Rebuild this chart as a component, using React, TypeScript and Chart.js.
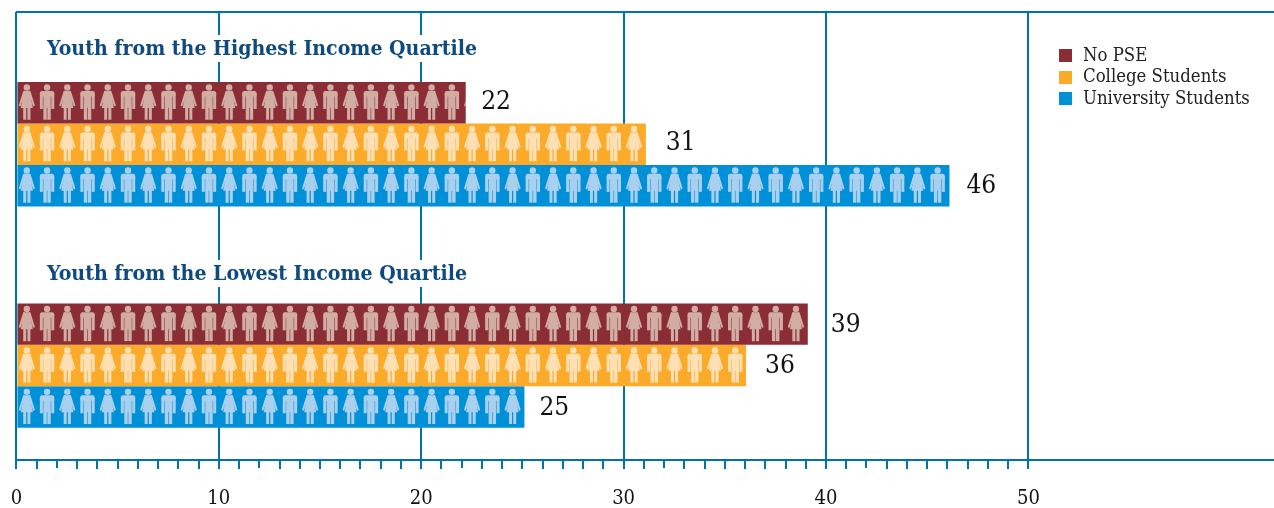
import React, { useEffect, useRef } from "react";
import { Chart, registerables } from "chart.js";

Chart.register(...registerables);

const groupTitles = ["Youth from the Highest Income Quartile", "Youth from the Lowest Income Quartile"];
const groupPositions = [1, 2];
const seriesNames = ["No PSE", "College Students", "University Students"];
const noPse = [22.2, 39.1];
const college = [31.1, 36.05];
const university = [46.1, 25.1];
const seriesColors = ["#8B2D35", "#FBAB29", "#0090D7"];
const figureColors = ["#D1ADA3", "#FEE0B4", "#A9D1EF"];
const labelGaps = [[15.5, 23], [20, 19], [17, 15]];
const labelDrops = [[-0.5, 1], [-0.5, 0.5], [0.5, 1.5]];
const tickLabels = [0, 10, 20, 30, 40, 50];
const shortTicks = [2, 12, 22, 32, 42];
const LINE = "#0074A8";
const SERIF = '"DejaVu Serif Condensed", "DejaVu Serif", serif';

function drawFigure(ctx: CanvasRenderingContext2D, cx: number, cy: number, woman: boolean) {
  ctx.beginPath();
  ctx.arc(cx, cy - 15.2, 3.2, 0, Math.PI * 2);
  ctx.fill();
  if (woman) {
    ctx.beginPath();
    ctx.moveTo(cx - 3, cy - 11.8);
    ctx.lineTo(cx + 3, cy - 11.8);
    ctx.lineTo(cx + 6, cy + 5.2);
    ctx.lineTo(cx + 3.6, cy + 5.2);
    ctx.lineTo(cx + 3.6, cy + 17);
    ctx.lineTo(cx + 0.6, cy + 17);
    ctx.lineTo(cx + 0.6, cy + 5.2);
    ctx.lineTo(cx - 0.6, cy + 5.2);
    ctx.lineTo(cx - 0.6, cy + 17);
    ctx.lineTo(cx - 3.6, cy + 17);
    ctx.lineTo(cx - 3.6, cy + 5.2);
    ctx.lineTo(cx - 6, cy + 5.2);
    ctx.closePath();
    ctx.fill();
    ctx.save();
    ctx.strokeStyle = ctx.fillStyle;
    ctx.lineWidth = 2;
    ctx.lineCap = "round";
    ctx.beginPath();
    ctx.moveTo(cx - 2.8, cy - 11);
    ctx.lineTo(cx - 7, cy + 2.6);
    ctx.moveTo(cx + 2.8, cy - 11);
    ctx.lineTo(cx + 7, cy + 2.6);
    ctx.stroke();
    ctx.restore();
  } else {
    ctx.beginPath();
    ctx.roundRect(cx - 7.2, cy - 11.8, 14.4, 5.5, 2.2);
    ctx.fill();
    ctx.fillRect(cx - 7.2, cy - 9, 3, 15.2);
    ctx.fillRect(cx + 4.2, cy - 9, 3, 15.2);
    ctx.fillRect(cx - 3.7, cy - 9, 7.4, 14);
    ctx.fillRect(cx - 3.7, cy + 4, 3.4, 13);
    ctx.fillRect(cx + 0.3, cy + 4, 3.4, 13);
  }
}

const figurePlugin = {
  id: "figures",
  afterDatasetsDraw(chart: any) {
    const { ctx, scales } = chart;
    chart.data.datasets.forEach((ds: any, d: number) => {
      chart.getDatasetMeta(d).data.forEach((bar: any, i: number) => {
        const top = bar.y - bar.height / 2;
        ctx.save();
        ctx.beginPath();
        ctx.rect(bar.base, top, bar.x - bar.base, bar.height);
        ctx.clip();
        ctx.fillStyle = figureColors[d];
        const n = Math.floor(ds.data[i].x) + 1;
        for (let k = 0; k < n; k++) {
          drawFigure(ctx, scales.x.getPixelForValue(k + 0.5) + 0.3, bar.y, k % 2 === 0);
        }
        ctx.restore();
        ctx.fillStyle = "#111";
        ctx.font = `26px ${SERIF}`;
        ctx.textAlign = "left";
        ctx.textBaseline = "middle";
        ctx.fillText(String(Math.round(ds.data[i].x)), bar.x + labelGaps[d][i], bar.y + labelDrops[d][i]);
      });
    });
  },
};

const titlePlugin = {
  id: "groupTitles",
  beforeDatasetsDraw(chart: any) {
    const { ctx, scales } = chart;
    const rises = [89.2, 85.6];
    groupTitles.forEach((t, i) => {
      const base = scales.y.getPixelForValue(groupPositions[i]) - rises[i];
      ctx.save();
      ctx.font = `bold 21.1px ${SERIF}`;
      ctx.textAlign = "left";
      ctx.textBaseline = "alphabetic";
      const w = ctx.measureText(t).width;
      ctx.fillStyle = "#FFFFFF";
      ctx.fillRect(47, base - 20, w, 27);
      ctx.fillStyle = "#0E4A7F";
      ctx.fillText(t, 47, base);
      ctx.restore();
    });
  },
};

const legendPlugin = {
  id: "sideLegend",
  afterDraw(chart: any) {
    const { ctx, scales } = chart;
    chart.data.datasets.forEach((ds: any, i: number) => {
      const y = 55.5 + i * 21.5;
      ctx.save();
      ctx.fillStyle = ds.backgroundColor;
      ctx.fillRect(1059, Math.round(y - 6.5), 13, 13);
      ctx.fillStyle = "#222";
      ctx.font = `18.4px ${SERIF}`;
      ctx.textAlign = "left";
      ctx.textBaseline = "middle";
      ctx.fillText(ds.label, 1083, y + 0.5);
      ctx.restore();
    });
    // a few ticks are drawn shorter in the reference
    ctx.save();
    ctx.fillStyle = "#FFFFFF";
    shortTicks.forEach((v) => {
      const x = Math.round(scales.x.getPixelForValue(v));
      ctx.fillRect(x - 2, 468, 4, 3);
    });
    ctx.restore();
  },
};

const points = (vals: number[]) => vals.map((x, i) => ({ x, y: groupPositions[i] }));

export default function App() {
  const ref = useRef<HTMLCanvasElement>(null);
  useEffect(() => {
    const series = [noPse, college, university];
    const chart = new Chart(ref.current!, {
      type: "bar",
      data: {
        datasets: series.map((vals, i) => ({
          label: seriesNames[i],
          data: points(vals),
          backgroundColor: seriesColors[i],
          base: 0.05,
          barPercentage: 1,
          categoryPercentage: 0.5619,
        })),
      },
      plugins: [titlePlugin, figurePlugin, legendPlugin],
      options: {
        indexAxis: "y",
        responsive: false,
        animation: false,
        layout: { padding: { left: 16.4, top: 12, right: 0, bottom: 0 } },
        plugins: { legend: { display: false }, tooltip: { enabled: false } },
        scales: {
          x: {
            type: "linear",
            min: 0,
            max: 62.134,
            afterBuildTicks(scale: any) {
              const t = [];
              for (let v = 0; v <= 50; v++) t.push({ value: v });
              scale.ticks = t;
            },
            afterFit(scale: any) {
              scale.height = 48;
              scale.paddingLeft = 0;
              scale.paddingRight = 0;
            },
            ticks: {
              autoSkip: false,
              maxRotation: 0,
              padding: 18,
              color: "#111",
              font: { family: SERIF, size: 20 },
              callback: (v: any) => (tickLabels.includes(v) ? String(v) : ""),
            },
            border: { display: true, color: LINE, width: 2 },
            grid: {
              lineWidth: 2,
              tickLength: 9,
              tickWidth: 2,
              tickColor: LINE,
              color: (c: any) => (c.tick && tickLabels.includes(c.tick.value) ? LINE : "rgba(0,0,0,0)"),
            },
          },
          y: {
            type: "linear",
            reverse: true,
            offset: false,
            min: 0.4029,
            max: 2.4264,
            afterBuildTicks(scale: any) {
              scale.ticks = [{ value: scale.max }, { value: scale.min }];
            },
            afterFit(scale: any) {
              scale.width = 0;
            },
            ticks: { display: false },
            border: { display: false },
            grid: { color: LINE, lineWidth: 2, drawTicks: false, offset: false },
          },
        },
      },
    } as any);
    return () => chart.destroy();
  }, []);
  return (
    <div style={{ position: "fixed", left: 0, top: 0, width: 1274, height: 508, background: "#fff" }}>
      <canvas ref={ref} width={1274} height={508} style={{ display: "block" }} />
    </div>
  );
}
